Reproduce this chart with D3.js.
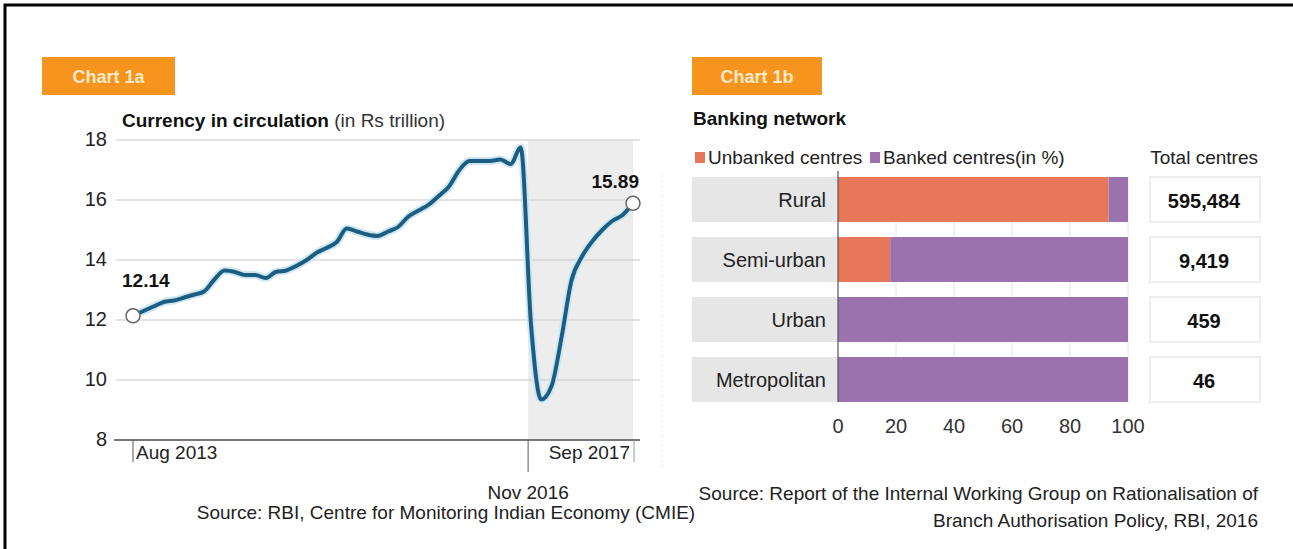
<!DOCTYPE html>
<html>
<head>
<meta charset="utf-8">
<script src="https://cdn.jsdelivr.net/npm/d3@7"></script>
<style>
  body { margin: 0; background: #fff; }
  svg { display: block; font-family: "Liberation Sans", Arial, sans-serif; }
</style>
</head>
<body>
<svg width="1293" height="549"></svg>
<script>
// chart 1a - currency in circulation, monthly Aug 2013 .. Sep 2017 (Rs trillion)
const startMonth = new Date(2013, 7, 1);
const currency = [
    12.14, 12.3, 12.45, 12.6, 12.65, 12.75, 12.85, 12.95, 13.35, 13.65,
    13.6, 13.5, 13.5, 13.4, 13.6, 13.65, 13.8, 14.0, 14.25, 14.4,
    14.6, 15.05, 14.95, 14.85, 14.8, 14.95, 15.1, 15.45, 15.65, 15.85,
    16.15, 16.45, 17.0, 17.3, 17.3, 17.3, 17.35, 17.2, 17.75, 11.8,
    9.35, 9.8, 11.5, 13.3, 14.1, 14.6, 15.0, 15.3, 15.5, 15.89
];
const yTicks = [8, 10, 12, 14, 16, 18];

// chart 1b - banking network
const categories = ["Rural", "Semi-urban", "Urban", "Metropolitan"];
const unbanked = [93.3, 18, 0, 0];
const banked   = [6.7, 82, 100, 100];
const totalCentres = ["595,484", "9,419", "459", "46"];
const xTicks = [0, 20, 40, 60, 80, 100];

const svg = d3.select("svg");
const FS = 19;

// frame
svg.append("path")
    .attr("d", "M5,549 L5,5 L1293,5")
    .attr("fill", "none")
    .attr("stroke", "#000")
    .attr("stroke-width", 3);

// badges
function badge(x, w, label) {
    svg.append("rect")
        .attr("x", x).attr("y", 57)
        .attr("width", w).attr("height", 38)
        .attr("fill", "#f7941d");
    svg.append("text")
        .attr("x", x + w / 2).attr("y", 83)
        .attr("text-anchor", "middle")
        .attr("fill", "#fde9c8")
        .attr("font-weight", "bold")
        .attr("font-size", 18)
        .text(label);
}
badge(42, 133, "Chart 1a");
badge(692, 130, "Chart 1b");

// ---------- chart 1a ----------
const dates = currency.map((d, i) => d3.timeMonth.offset(startMonth, i));

const x = d3.scaleTime()
    .domain([dates[0], dates[dates.length - 1]])
    .range([133, 633]);

const y = d3.scaleLinear()
    .domain([8, 18])
    .range([440, 140]);

const nov16 = new Date(2016, 10, 1);

// shaded post-demonetisation area
svg.append("rect")
    .attr("x", x(nov16) - 3)
    .attr("y", y(18))
    .attr("width", x(dates[dates.length - 1]) - x(nov16) + 3)
    .attr("height", y(8) - y(18))
    .attr("fill", "#ededed");

const gy = svg.append("g");
gy.selectAll("line")
    .data(yTicks.filter(d => d > 8))
    .enter()
    .append("line")
    .attr("x1", 116).attr("x2", 640)
    .attr("y1", d => y(d)).attr("y2", d => y(d))
    .attr("stroke", "#c8c8c8")
    .attr("stroke-width", 1.2);

gy.selectAll("text")
    .data(yTicks)
    .enter()
    .append("text")
    .attr("x", 107)
    .attr("y", d => y(d) + 6)
    .attr("text-anchor", "end")
    .attr("font-size", 20)
    .attr("fill", "#222")
    .text(d => d);

// base axis
svg.append("line")
    .attr("x1", 114).attr("x2", 640)
    .attr("y1", y(8)).attr("y2", y(8))
    .attr("stroke", "#777")
    .attr("stroke-width", 2);

// x tick marks
svg.append("line")
    .attr("x1", x(dates[0])).attr("x2", x(dates[0]))
    .attr("y1", y(8)).attr("y2", y(8) + 22)
    .attr("stroke", "#555");
svg.append("line")
    .attr("x1", x(nov16) - 3).attr("x2", x(nov16) - 3)
    .attr("y1", y(8)).attr("y2", y(8) + 32)
    .attr("stroke", "#555");
svg.append("line")
    .attr("x1", x(dates[dates.length - 1]) + 1).attr("x2", x(dates[dates.length - 1]) + 1)
    .attr("y1", y(8)).attr("y2", y(8) + 22)
    .attr("stroke", "#999");

svg.append("text")
    .attr("x", x(dates[0]) + 3).attr("y", 459)
    .attr("font-size", FS).attr("fill", "#222")
    .text("Aug 2013");
svg.append("text")
    .attr("x", x(dates[dates.length - 1]) - 3).attr("y", 459)
    .attr("text-anchor", "end")
    .attr("font-size", FS).attr("fill", "#222")
    .text("Sep 2017");
svg.append("text")
    .attr("x", x(nov16) - 3).attr("y", 499)
    .attr("text-anchor", "middle")
    .attr("font-size", FS).attr("fill", "#222")
    .text("Nov 2016");

const line = d3.line()
    .x((d, i) => x(dates[i]))
    .y(d => y(d))
    .curve(d3.curveMonotoneX);

svg.append("path")
    .datum(currency)
    .attr("d", line)
    .attr("fill", "none")
    .attr("stroke", "#cfe7f3")
    .attr("stroke-width", 8)
    .attr("stroke-linejoin", "round");

svg.append("path")
    .datum(currency)
    .attr("d", line)
    .attr("fill", "none")
    .attr("stroke", "#1b5e82")
    .attr("stroke-width", 4)
    .attr("stroke-linejoin", "round");

// end points
const ends = [0, currency.length - 1];
svg.selectAll("circle.end")
    .data(ends)
    .enter()
    .append("circle")
    .attr("class", "end")
    .attr("cx", i => x(dates[i]))
    .attr("cy", i => y(currency[i]))
    .attr("r", 7)
    .attr("fill", "#fff")
    .attr("stroke", "#666")
    .attr("stroke-width", 1.5);

svg.append("text")
    .attr("x", 122).attr("y", y(currency[0]) - 29)
    .attr("font-size", FS).attr("font-weight", "bold").attr("fill", "#111")
    .text(currency[0].toFixed(2));
svg.append("text")
    .attr("x", x(dates[dates.length - 1]) + 6).attr("y", y(currency[currency.length - 1]) - 15)
    .attr("text-anchor", "end")
    .attr("font-size", FS).attr("font-weight", "bold").attr("fill", "#111")
    .text(currency[currency.length - 1].toFixed(2));

// title
const t1 = svg.append("text")
    .attr("x", 122).attr("y", 127)
    .attr("font-size", FS).attr("fill", "#111");
t1.append("tspan").attr("font-weight", "bold").text("Currency in circulation ");
t1.append("tspan").attr("fill", "#333").text("(in Rs trillion)");

svg.append("text")
    .attr("x", 446).attr("y", 519)
    .attr("text-anchor", "middle")
    .attr("font-size", FS).attr("fill", "#222")
    .text("Source: RBI, Centre for Monitoring Indian Economy (CMIE)");

// divider
svg.append("line")
    .attr("x1", 662).attr("x2", 662)
    .attr("y1", 175).attr("y2", 470)
    .attr("stroke", "#e2e2e2")
    .attr("stroke-dasharray", "2,3");

// ---------- chart 1b ----------
svg.append("text")
    .attr("x", 693).attr("y", 125)
    .attr("font-size", FS).attr("font-weight", "bold").attr("fill", "#111")
    .text("Banking network");

const colUnbanked = "#e8775a";
const colBanked = "#9b72ae";

svg.append("rect").attr("x", 695).attr("y", 152).attr("width", 10).attr("height", 11).attr("fill", colUnbanked);
svg.append("text").attr("x", 708).attr("y", 164).attr("font-size", FS).attr("fill", "#222").text("Unbanked centres");
svg.append("rect").attr("x", 870).attr("y", 152).attr("width", 10).attr("height", 11).attr("fill", colBanked);
svg.append("text").attr("x", 883).attr("y", 164).attr("font-size", FS).attr("fill", "#222").text("Banked centres(in %)");
svg.append("text").attr("x", 1258).attr("y", 164).attr("text-anchor", "end").attr("font-size", FS).attr("fill", "#222").text("Total centres");

const bx = d3.scaleLinear().domain([0, 100]).range([838, 1128]);
const by = d3.scaleBand()
    .domain(categories)
    .range([169.5, 409.5])
    .paddingInner(0.25)
    .paddingOuter(0.125);

// category label panels
svg.selectAll("rect.cat")
    .data(categories)
    .enter()
    .append("rect")
    .attr("class", "cat")
    .attr("x", 692).attr("width", bx(0) - 692)
    .attr("y", d => by(d)).attr("height", by.bandwidth())
    .attr("fill", "#e6e6e6");

svg.selectAll("text.cat")
    .data(categories)
    .enter()
    .append("text")
    .attr("class", "cat")
    .attr("x", 826)
    .attr("y", d => by(d) + by.bandwidth() / 2 + 7)
    .attr("text-anchor", "end")
    .attr("font-size", 20).attr("fill", "#222")
    .text(d => d);

// vertical gridlines
svg.selectAll("line.vgrid")
    .data(xTicks.slice(1))
    .enter()
    .append("line")
    .attr("class", "vgrid")
    .attr("x1", d => bx(d)).attr("x2", d => bx(d))
    .attr("y1", by(categories[0])).attr("y2", by(categories[3]) + by.bandwidth())
    .attr("stroke", "#e4e4e4");

const stack = categories.map((c, i) => ({ cat: c, u: unbanked[i], b: banked[i] }));

svg.selectAll("rect.unb")
    .data(stack)
    .enter()
    .append("rect")
    .attr("class", "unb")
    .attr("x", bx(0))
    .attr("y", d => by(d.cat))
    .attr("width", d => bx(d.u) - bx(0))
    .attr("height", by.bandwidth())
    .attr("fill", colUnbanked);

svg.selectAll("rect.bnk")
    .data(stack)
    .enter()
    .append("rect")
    .attr("class", "bnk")
    .attr("x", d => bx(d.u))
    .attr("y", d => by(d.cat))
    .attr("width", d => bx(d.u + d.b) - bx(d.u))
    .attr("height", by.bandwidth())
    .attr("fill", colBanked);

svg.append("line")
    .attr("x1", bx(0)).attr("x2", bx(0))
    .attr("y1", by(categories[0]) - 6).attr("y2", by(categories[3]) + by.bandwidth())
    .attr("stroke", "#555")
    .attr("stroke-width", 1.2);

svg.selectAll("text.xt")
    .data(xTicks)
    .enter()
    .append("text")
    .attr("class", "xt")
    .attr("x", d => bx(d))
    .attr("y", 433)
    .attr("text-anchor", "middle")
    .attr("font-size", 20).attr("fill", "#333")
    .text(d => d);

// total centres boxes
svg.selectAll("rect.tot")
    .data(categories)
    .enter()
    .append("rect")
    .attr("class", "tot")
    .attr("x", 1150).attr("width", 110)
    .attr("y", d => by(d)).attr("height", by.bandwidth())
    .attr("fill", "#fff")
    .attr("stroke", "#eeeeee")
    .attr("stroke-width", 2);

svg.selectAll("text.tot")
    .data(categories)
    .enter()
    .append("text")
    .attr("class", "tot")
    .attr("x", 1204)
    .attr("y", (d, i) => by(d) + by.bandwidth() / 2 + 8)
    .attr("text-anchor", "middle")
    .attr("font-size", 20).attr("font-weight", "bold").attr("fill", "#111")
    .text((d, i) => totalCentres[i]);

svg.append("text")
    .attr("x", 1258).attr("y", 500)
    .attr("text-anchor", "end")
    .attr("font-size", FS).attr("fill", "#222")
    .text("Source: Report of the Internal Working Group on Rationalisation of");
svg.append("text")
    .attr("x", 1258).attr("y", 527)
    .attr("text-anchor", "end")
    .attr("font-size", FS).attr("fill", "#222")
    .text("Branch Authorisation Policy, RBI, 2016");
</script>
</body>
</html>
